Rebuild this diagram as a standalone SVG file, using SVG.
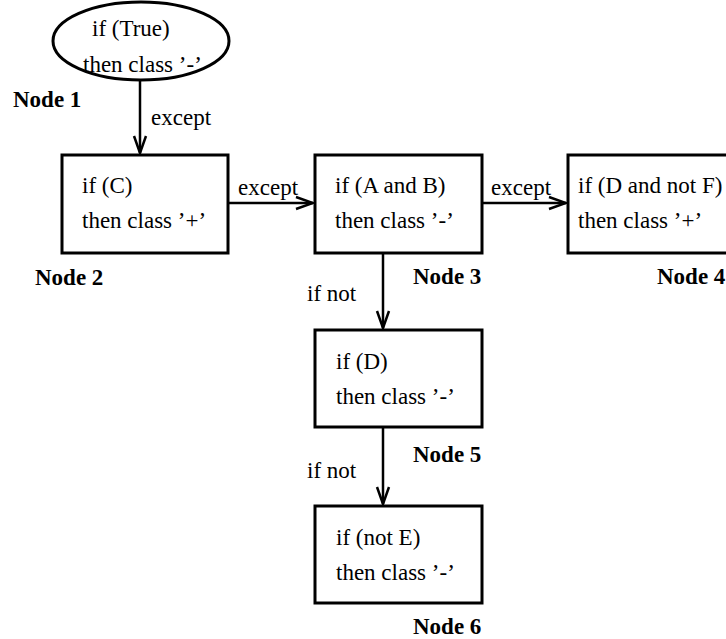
<svg xmlns="http://www.w3.org/2000/svg" width="726" height="639" viewBox="0 0 726 639">
<style>
text{font-family:"Liberation Serif","Times New Roman",serif;font-size:23px;fill:#000}
.b{font-weight:bold}
.box{fill:#fff;stroke:#000;stroke-width:3}
.edge{fill:none;stroke:#000;stroke-width:2.5}
</style>
<defs>
<marker id="arr" markerUnits="userSpaceOnUse" markerWidth="20" markerHeight="16" viewBox="-18 -8 20 16" refX="0" refY="0" orient="auto">
<path d="M-17,-6 L0,0 L-17,6" fill="none" stroke="#000" stroke-width="2.5"/>
</marker>
</defs>
<rect width="726" height="639" fill="#fff"/>
<g id="connectors">
<path class="edge" d="M140,80 V153" marker-end="url(#arr)"/>
<text x="151" y="125">except</text>
<path class="edge" d="M228,203 H313" marker-end="url(#arr)"/>
<text x="238" y="195">except</text>
<path class="edge" d="M482,203 H566" marker-end="url(#arr)"/>
<text x="491" y="195">except</text>
<path class="edge" d="M383,253 V328" marker-end="url(#arr)"/>
<text x="307" y="301">if not</text>
<path class="edge" d="M383,427 V504" marker-end="url(#arr)"/>
<text x="307" y="478">if not</text>
</g>
<g id="node1">
<ellipse class="box" cx="141" cy="41" rx="88" ry="39"/>
<text x="92" y="36">if (True)</text>
<text x="83" y="72">then class ’-’</text>
<text class="b" x="13" y="107">Node 1</text>
</g>
<g id="node2">
<rect class="box" x="62" y="155" width="166" height="98"/>
<text x="82" y="193">if (C)</text>
<text x="82" y="228">then class ’+’</text>
<text class="b" x="35" y="285">Node 2</text>
</g>
<g id="node3">
<rect class="box" x="315" y="155" width="167" height="98"/>
<text x="335" y="193">if (A and B)</text>
<text x="335" y="228">then class ’-’</text>
<text class="b" x="413" y="284">Node 3</text>
</g>
<g id="node4">
<rect class="box" x="568" y="155" width="175" height="98"/>
<text x="578" y="193">if (D and not F)</text>
<text x="578" y="228">then class ’+’</text>
<text class="b" x="657" y="284">Node 4</text>
</g>
<g id="node5">
<rect class="box" x="315" y="330" width="167" height="97"/>
<text x="336" y="369">if (D)</text>
<text x="336" y="404">then class ’-’</text>
<text class="b" x="413" y="462">Node 5</text>
</g>
<g id="node6">
<rect class="box" x="315" y="506" width="167" height="97"/>
<text x="336" y="545">if (not E)</text>
<text x="336" y="580">then class ’-’</text>
<text class="b" x="413" y="634">Node 6</text>
</g>
</svg>
